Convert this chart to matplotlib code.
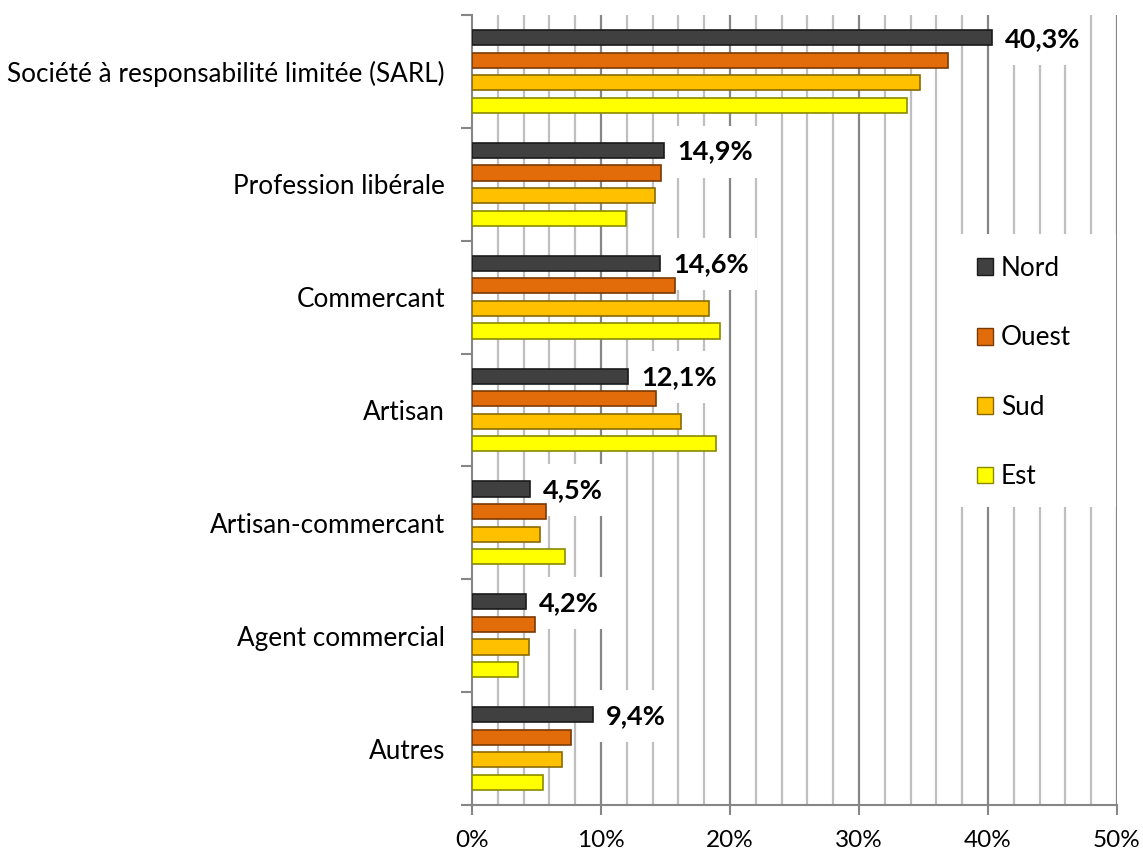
import matplotlib
matplotlib.use("Agg")
import matplotlib.pyplot as plt
import numpy as np
from matplotlib.patches import Patch, Rectangle

plt.rcParams['font.family'] = ['Lato', 'DejaVu Sans']

categories = ["Société à responsabilité limitée (SARL)", "Profession libérale", "Commercant",
              "Artisan", "Artisan-commercant", "Agent commercial", "Autres"]
series = ["Nord", "Ouest", "Sud", "Est"]
nord = [40.3, 14.9, 14.6, 12.1, 4.5, 4.2, 9.4]
ouest = [36.9, 14.65, 15.7, 14.3, 5.7, 4.9, 7.7]
sud = [34.7, 14.2, 18.4, 16.2, 5.3, 4.4, 6.95]
est = [33.7, 11.9, 19.2, 18.9, 7.2, 3.6, 5.5]
nord_labels = ["40,3%", "14,9%", "14,6%", "12,1%", "4,5%", "4,2%", "9,4%"]
xticks = [0, 10, 20, 30, 40, 50]
xtick_labels = ["0%", "10%", "20%", "30%", "40%", "50%"]

fills = ["#404040", "#E36C0A", "#FFC000", "#FFFF00"]
edges = ["#1a1a1a", "#7a3a05", "#8a6a00", "#8a8a00"]

W, H = 1143, 858
fig = plt.figure(figsize=(W/100, H/100), dpi=100)
L, R, T, B = 472, 1117, 15, 805
ax = fig.add_axes([L/W, 1-B/H, (R-L)/W, (B-T)/H])

y = np.arange(len(categories))
offsets = [-0.3, -0.1, 0.1, 0.3]
data = [nord, ouest, sud, est]
for vals, off, fc, ec, name in zip(data, offsets, fills, edges, series):
    ax.barh(y + off, vals, height=0.135, color=fc, edgecolor=ec, linewidth=1.2, label=name, zorder=3)

texts = []
for i, (v, lab) in enumerate(zip(nord, nord_labels)):
    t = ax.text(v + 1.0, y[i] - 0.3 + 0.01, lab, fontsize=19.5, fontweight='bold', va='center', ha='left',
                zorder=5)
    texts.append(t)

ax.set_xlim(0, 50)
ax.set_ylim(6.5, -0.5)

# gridlines
for gx in np.arange(2, 50.1, 2):
    major = abs(gx % 10) < 1e-6
    ax.axvline(gx, color="#868686" if major else "#BFBFBF", lw=1.6, zorder=1)

ax.set_xticks(xticks)
ax.set_xticklabels(xtick_labels, fontsize=17.5)
ax.tick_params(axis='x', length=7, width=1.5, color="#868686", pad=11)
ax.set_yticks(y)
ax.set_yticklabels(categories, fontsize=18.8)
ax.tick_params(axis='y', which='major', length=0, pad=19.5)
ax.set_yticks(np.arange(-0.5, 6.6, 1), minor=True)
ax.tick_params(axis='y', which='minor', length=8, width=1.5, color="#868686")

for s in ['top', 'right']:
    ax.spines[s].set_visible(False)
for s in ['left', 'bottom']:
    ax.spines[s].set_color("#868686")
    ax.spines[s].set_linewidth(1.5)

# white boxes behind data labels
fig.canvas.draw()
for t in texts:
    bb = t.get_window_extent()
    px, py = 8, 14
    r = Rectangle(((bb.x0 - px)/W, (bb.y0 - py)/H), (bb.width + 2*px)/W, (bb.height + 2*py)/H,
                  transform=fig.transFigure, facecolor='white', edgecolor='none', zorder=2)
    ax.add_artist(r)

# legend background box
bg = Rectangle((940/W, 1-507/H), (1116-940)/W, (507-234)/H, transform=fig.transFigure,
               facecolor='white', edgecolor='none', zorder=6)
ax.add_artist(bg)
bg.set_clip_on(False)

handles = [Patch(facecolor=fc, edgecolor=ec, label=n) for fc, ec, n in zip(fills, edges, series)]
leg = ax.legend(handles=handles, loc='upper left', bbox_to_anchor=(977/W, 1-256/H),
                bbox_transform=fig.transFigure,
                frameon=False, fontsize=18.8, labelspacing=1.7, handlelength=0.62, handleheight=0.62,
                handletextpad=0.3, borderpad=0, borderaxespad=0)
leg.set_zorder(7)

fig.savefig("out.png", dpi=100)
